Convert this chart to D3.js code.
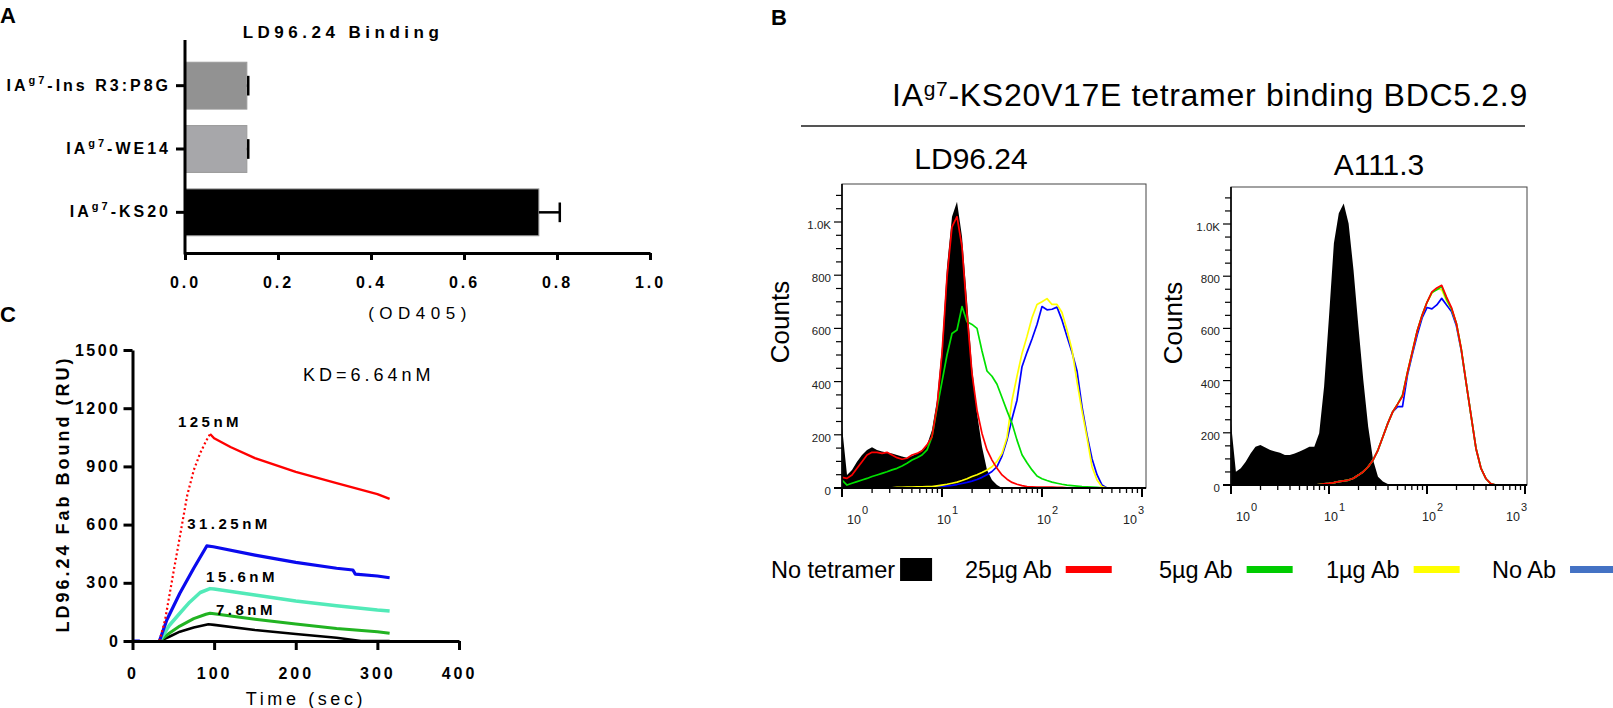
<!DOCTYPE html>
<html>
<head>
<meta charset="utf-8">
<script src="https://cdn.jsdelivr.net/npm/d3@7"></script>
<style>
body { margin: 0; background: #fff; }
svg { font-family: "Liberation Sans", Arial, sans-serif; }
</style>
</head>
<body>
<svg id="figure" width="1613" height="708"></svg>
<script>
// ---- panel A : ELISA binding
const bindCategories = ["Ins R3:P8G", "WE14", "KS20"];
const bindValues = [0.133, 0.133, 0.761];
const bindErrors = [0.003, 0.003, 0.045];
const bindColors = ["#929292", "#a7a7aa", "#000000"];
const bindTicks = [0, 0.2, 0.4, 0.6, 0.8, 1.0];

// ---- panel C : SPR sensorgrams (time in sec, response in RU)
const conc125AssocTime = [33, 40, 50, 61, 67, 75, 83, 90, 95];
const conc125AssocRU = [0, 110, 350, 608, 750, 880, 969, 1030, 1067];
const conc125DissTime = [95, 100, 120, 150, 200, 250, 300, 315];
const conc125DissRU = [1067, 1045, 1000, 943, 872, 814, 757, 733];
const conc31Time = [33, 42, 58, 75, 91, 99, 150, 200, 250, 270, 273, 300, 315];
const conc31RU = [0, 108, 246, 375, 490, 486, 443, 405, 375, 366, 345, 335, 326];
const conc31LeadTime = [0, 9];
const conc31LeadRU = [0, 0];
const conc15Time = [33, 45, 58, 70, 83, 95, 100, 150, 200, 250, 300, 315];
const conc15RU = [0, 80, 143, 200, 250, 270, 268, 237, 206, 182, 160, 155];
const conc7Time = [33, 45, 58, 75, 90, 95, 100, 150, 200, 250, 300, 315];
const conc7RU = [0, 40, 77, 115, 138, 143, 140, 112, 88, 65, 48, 40];
const conc3Time = [33, 45, 58, 75, 93, 100, 150, 200, 250, 280, 315];
const conc3RU = [0, 22, 48, 70, 86, 83, 57, 36, 17, 0, 0];
const concLabels = ["125nM", "31.25nM", "15.6nM", "7.8nM"];
const sprXTicks = [0, 100, 200, 300, 400];
const sprYTicks = [0, 300, 600, 900, 1200, 1500];

// ---- panel B : flow cytometry histograms (log10 fluorescence grid, counts)
const logGrid = [0.00,0.05,0.10,0.15,0.20,0.25,0.30,0.35,0.40,0.45,0.50,0.55,0.60,0.65,0.70,0.75,0.80,0.85,0.90,0.95,
  1.00,1.05,1.10,1.15,1.20,1.25,1.30,1.35,1.40,1.45,1.50,1.55,1.60,1.65,1.70,1.75,1.80,1.85,1.90,1.95,
  2.00,2.05,2.10,2.15,2.20,2.25,2.30,2.35,2.40,2.45,2.50,2.55,2.60,2.65,2.70,2.75,2.80,2.85,2.90,2.95,3.00];

const ldNoTetramer = [230,49,68,99,124,143,153,143,137,133,130,124,118,114,120,130,143,162,218,331,
  531,832,1020,1076,945,707,456,281,155,68,30,11,0,0,0,0,0,0,0,0,
  0,0,0,0,0,0,0,0,0,0,0,0,0,0,0,0,0,0,0,0,0];
const ld25ug = [40,36,49,74,99,124,134,134,130,134,124,114,108,112,124,130,140,162,193,306,
  506,794,982,1020,907,657,431,293,205,143,105,74,49,33,21,14,9,5,4,3,
  3,3,3,2,2,1,1,0,0,0,0,0,0,0,0,0,0,0,0,0,0];
const ld5ug = [30,11,18,24,30,36,43,49,55,61,68,74,83,93,105,114,124,143,193,300,
  400,500,581,594,682,625,615,600,515,440,420,390,340,290,243,180,125,95,68,45,
  35,28,22,18,14,11,9,7,5,4,3,2,1,0,0,0,0,0,0,0,0];
const ld1ug = [0,0,0,0,0,0,0,0,0,1,1,2,2,3,3,4,4,5,5,8,
  11,14,18,22,28,35,43,50,58,68,80,100,130,190,330,420,506,570,640,690,
  700,712,690,690,660,594,519,400,290,190,80,30,5,0,0,0,0,0,0,0,0];
const ldNoAb = [0,0,0,0,0,0,0,0,0,0,0,0,0,0,0,0,0,0,2,4,
  6,8,10,13,17,21,26,32,40,50,62,80,120,180,260,330,456,510,560,615,
  682,670,672,680,631,570,510,440,306,200,110,50,11,0,0,0,0,0,0,0,0];

const aNoTetramer = [236,51,64,89,121,147,153,144,134,128,124,115,115,121,128,137,147,147,198,377,
  645,926,1041,1079,1002,824,607,402,223,96,32,13,4,0,0,0,0,0,0,0,
  0,0,0,0,0,0,0,0,0,0,0,0,0,0,0,0,0,0,0,0,0];
const a25ug = [0,0,0,0,0,0,0,0,0,0,0,0,0,0,0,0,0,0,2,4,
  6,9,13,16,19,26,38,51,70,96,134,185,236,280,310,340,430,510,590,650,
  700,740,755,765,720,680,619,520,390,265,140,65,25,5,0,0,0,0,0,0,0];
const a5ug = [0,0,0,0,0,0,0,0,0,0,0,0,0,0,0,0,0,0,2,4,
  6,9,13,16,19,26,38,51,70,96,134,185,236,280,310,345,430,510,590,650,
  700,738,748,760,712,675,619,520,390,265,140,65,25,5,0,0,0,0,0,0,0];
const a1ug = [0,0,0,0,0,0,0,0,0,0,0,0,0,0,0,0,0,0,2,4,
  6,9,13,16,19,26,38,51,70,96,134,185,236,280,310,340,430,510,590,650,
  700,735,752,748,705,675,619,520,390,265,140,65,25,5,0,0,0,0,0,0,0];
const aNoAb = [0,0,0,0,0,0,0,0,0,0,0,0,0,0,0,0,0,0,2,4,
  6,9,13,16,19,26,38,51,70,96,134,185,236,280,300,300,420,500,575,640,
  680,675,690,715,690,665,610,515,390,265,140,65,25,5,0,0,0,0,0,0,0];

const countTicks = [0, 200, 400, 600, 800, 1000];
const countTickLabels = ["0", "200", "400", "600", "800", "1.0K"];
const legendLabels = ["No tetramer", "25\u00b5g Ab", "5\u00b5g Ab", "1\u00b5g Ab", "No Ab"];
const legendColors = ["#000000", "#ff0000", "#00cc00", "#ffff00", "#4472c4"];

const svg = d3.select("#figure");
svg.append("rect").attr("width", 1613).attr("height", 708).attr("fill", "#fff");

function panelLetter(x, y, t) {
  svg.append("text").attr("x", x).attr("y", y).attr("font-size", 22).attr("font-weight", "bold").text(t);
}

// superscript label helper: IA^g7-xxx
function iaLabel(sel, rest, supSize, rise) {
  sel.text(null);
  sel.append("tspan").text("IA");
  sel.append("tspan").attr("font-size", supSize).attr("dy", -rise).text("g7");
  sel.append("tspan").attr("dy", rise).text(rest);
}

function drawBinding() {
  const g = svg.append("g");
  const x = d3.scaleLinear().domain([0, 1]).range([185, 650]);
  const y = d3.scaleBand().domain(bindCategories).range([54, 244]).paddingInner(0.26).paddingOuter(0.13);

  g.selectAll("rect.bar")
    .data(bindCategories)
    .join("rect")
    .attr("class", "bar")
    .attr("x", x(0))
    .attr("y", d => y(d))
    .attr("width", (d, i) => x(bindValues[i]) - x(0))
    .attr("height", y.bandwidth())
    .attr("fill", (d, i) => bindColors[i])
    .attr("stroke", "#9a9a9a")
    .attr("stroke-width", 1);

  // error bars (upper side only)
  const capH = y.bandwidth() * 0.42;
  bindCategories.forEach((c, i) => {
    const cy = y(c) + y.bandwidth() / 2;
    const xe = x(bindValues[i] + bindErrors[i]);
    g.append("line").attr("x1", x(bindValues[i])).attr("x2", xe).attr("y1", cy).attr("y2", cy)
      .attr("stroke", "#000").attr("stroke-width", 2.5);
    g.append("line").attr("x1", xe).attr("x2", xe).attr("y1", cy - capH / 2).attr("y2", cy + capH / 2)
      .attr("stroke", "#000").attr("stroke-width", 2.5);
  });

  const xAxis = g.append("g").attr("transform", "translate(0,253)")
    .call(d3.axisBottom(x).tickValues(bindTicks).tickFormat(d3.format(".1f")).tickSize(7).tickSizeOuter(0));
  xAxis.select(".domain").attr("stroke-width", 3);
  xAxis.selectAll(".tick line").attr("stroke-width", 3);
  xAxis.selectAll(".tick text").attr("y", 24).attr("font-size", 16).attr("font-weight", "bold")
    .attr("font-family", "Liberation Sans, Arial").style("letter-spacing", "3px").attr("fill", "#000");

  const yAxis = g.append("g").attr("transform", "translate(185,0)")
    .call(d3.axisLeft(y).tickSize(9).tickSizeOuter(0));
  yAxis.select(".domain").remove();
  yAxis.selectAll(".tick line").attr("stroke-width", 3);
  yAxis.selectAll(".tick text").attr("x", -14).attr("font-size", 16).attr("font-weight", "bold")
    .attr("font-family", "Liberation Sans, Arial").style("letter-spacing", "3px").attr("fill", "#000")
    .each(function(d) { iaLabel(d3.select(this), "-" + d, 11, 7); });
  g.append("line").attr("x1", 185).attr("x2", 185).attr("y1", 40).attr("y2", 254.5)
    .attr("stroke", "#000").attr("stroke-width", 3);

  g.append("text").attr("x", 343).attr("y", 38).attr("text-anchor", "middle")
    .attr("font-size", 17).attr("font-weight", "bold").style("letter-spacing", "4.5px").text("LD96.24 Binding");
  g.append("text").attr("x", 420).attr("y", 319).attr("text-anchor", "middle")
    .attr("font-size", 17).style("letter-spacing", "5.5px").text("(OD405)");
}

function drawSpr() {
  const g = svg.append("g");
  const x = d3.scaleLinear().domain([0, 400]).range([132.5, 459]);
  const y = d3.scaleLinear().domain([0, 1500]).range([641, 350]);
  const line = d3.line().x(d => x(d[0])).y(d => y(d[1]));

  const curves = [
    {t: conc3Time, v: conc3RU, color: "#000000", w: 2.6},
    {t: conc7Time, v: conc7RU, color: "#22b322", w: 3},
    {t: conc15Time, v: conc15RU, color: "#52eab8", w: 3.5},
    {t: conc31LeadTime, v: conc31LeadRU, color: "#0000ee", w: 3},
    {t: conc31Time, v: conc31RU, color: "#0a0aee", w: 3.2},
    {t: conc125DissTime, v: conc125DissRU, color: "#ff0000", w: 2.4},
    {t: conc125AssocTime, v: conc125AssocRU, color: "#ff0000", w: 2.2, dash: "2,2.6"}
  ];
  curves.forEach(c => {
    g.append("path").datum(d3.zip(c.t, c.v)).attr("d", line)
      .attr("fill", "none").attr("stroke", c.color).attr("stroke-width", c.w)
      .attr("stroke-linejoin", "round").attr("stroke-dasharray", c.dash || null);
  });

  const xAxis = g.append("g").attr("transform", "translate(0,641)")
    .call(d3.axisBottom(x).tickValues(sprXTicks).tickFormat(d3.format("d")).tickSize(9).tickSizeOuter(0));
  xAxis.select(".domain").attr("stroke-width", 3);
  xAxis.selectAll(".tick line").attr("stroke-width", 3);
  xAxis.selectAll(".tick text").attr("y", 27).attr("font-size", 16).attr("font-weight", "bold")
    .attr("font-family", "Liberation Sans, Arial").style("letter-spacing", "3px").attr("fill", "#000");

  const yAxis = g.append("g").attr("transform", "translate(132.5,0)")
    .call(d3.axisLeft(y).tickValues(sprYTicks).tickFormat(d3.format("d")).tickSize(9).tickSizeOuter(0));
  yAxis.select(".domain").attr("stroke-width", 3);
  yAxis.selectAll(".tick line").attr("stroke-width", 3);
  yAxis.selectAll(".tick text").attr("x", -12).attr("font-size", 16).attr("font-weight", "bold")
    .attr("font-family", "Liberation Sans, Arial").style("letter-spacing", "2.5px").attr("fill", "#000");

  g.append("text").attr("transform", "translate(69,494) rotate(-90)").attr("text-anchor", "middle")
    .attr("font-size", 18).attr("font-weight", "bold").style("letter-spacing", "3px")
    .text("LD96.24 Fab Bound (RU)");
  g.append("text").attr("x", 306).attr("y", 705).attr("text-anchor", "middle")
    .attr("font-size", 18).style("letter-spacing", "3.6px").text("Time (sec)");
  g.append("text").attr("x", 303).attr("y", 381).attr("font-size", 18).style("letter-spacing", "4px")
    .text("KD=6.64nM");

  const labelPos = [[210, 427], [229, 529], [242, 582], [246, 615]];
  concLabels.forEach((t, i) => {
    g.append("text").attr("x", labelPos[i][0]).attr("y", labelPos[i][1]).attr("text-anchor", "middle")
      .attr("font-size", 15).attr("font-weight", "bold").style("letter-spacing", "3.5px").text(t);
  });
}

function drawHistogram(box, series) {
  const g = svg.append("g");
  const x = d3.scaleLog().domain([1, Math.pow(10, (box.right - box.left) / box.decade)]).range([box.left, box.right]);
  const y = d3.scaleLinear().domain([0, 1000]).range([box.zero, box.k]);
  const clipId = "clip" + box.left;
  g.append("clipPath").attr("id", clipId).append("rect")
    .attr("x", box.left).attr("y", box.top).attr("width", box.right - box.left).attr("height", box.zero - box.top + 1);

  const plot = g.append("g").attr("clip-path", `url(#${clipId})`);
  const pts = vals => logGrid.map((l, i) => [Math.pow(10, l), vals[i] || 0]);

  plot.append("path").datum(pts(series[0].values))
    .attr("d", d3.area().x(d => x(d[0])).y0(y(0)).y1(d => y(d[1])))
    .attr("fill", "#000");
  series.slice(1).forEach(s => {
    plot.append("path").datum(pts(s.values))
      .attr("d", d3.line().x(d => x(d[0])).y(d => y(d[1])))
      .attr("fill", "none").attr("stroke", s.color).attr("stroke-width", 1.7).attr("stroke-linejoin", "round");
  });

  // frame
  g.append("rect").attr("x", box.left).attr("y", box.top).attr("width", box.right - box.left)
    .attr("height", box.zero - box.top).attr("fill", "none").attr("stroke", "#444").attr("stroke-width", 1);
  g.append("line").attr("x1", box.left).attr("x2", box.left).attr("y1", box.top).attr("y2", box.zero + 1)
    .attr("stroke", "#000").attr("stroke-width", 1.6);
  g.append("line").attr("x1", box.left - 8).attr("x2", box.right).attr("y1", box.zero).attr("y2", box.zero)
    .attr("stroke", "#000").attr("stroke-width", 2.2);

  // y ticks every 50 counts
  d3.range(0, 1101, 50).forEach(v => {
    const major = v % 200 === 0;
    g.append("line").attr("x1", box.left - (major ? 8 : 6)).attr("x2", box.left)
      .attr("y1", y(v)).attr("y2", y(v)).attr("stroke", "#000").attr("stroke-width", 1.2);
  });
  countTicks.forEach((v, i) => {
    g.append("text").attr("x", box.left - 11).attr("y", y(v) + 7).attr("text-anchor", "end")
      .attr("font-size", 11.5).attr("fill", "#222").text(countTickLabels[i]);
  });

  // log x ticks
  const maxVal = x.domain()[1];
  [1, 10, 100].forEach(dec => {
    for (let m = 1; m <= 9; m++) {
      const v = dec * m;
      if (v > maxVal) continue;
      g.append("line").attr("x1", x(v)).attr("x2", x(v)).attr("y1", box.zero)
        .attr("y2", box.zero + (m === 1 ? 9 : 5)).attr("stroke", "#000").attr("stroke-width", m === 1 ? 2 : 1.3);
    }
  });
  g.append("line").attr("x1", x(1000)).attr("x2", x(1000)).attr("y1", box.zero).attr("y2", box.zero + 9)
    .attr("stroke", "#000").attr("stroke-width", 2);
  [0, 1, 2, 3].forEach(p => {
    const shift = p === 0 ? 5 : (p === 3 ? -19 : -5);
    const t = g.append("text").attr("x", x(Math.pow(10, p)) + shift).attr("y", box.zero + 36)
      .attr("font-size", 12.5).attr("fill", "#222");
    t.append("tspan").text("10");
    t.append("tspan").attr("font-size", 11).attr("dy", -10).attr("dx", 1).text(p);
  });

  g.append("text").attr("transform", `translate(${box.countsX},${box.countsY}) rotate(-90)`)
    .attr("text-anchor", "middle").attr("font-size", 26).text("Counts");
  g.append("text").attr("x", box.titleX).attr("y", box.titleY).attr("text-anchor", "middle")
    .attr("font-size", 30).text(box.title);
}

function drawFlow() {
  panelLetter(771, 25, "B");
  const t = svg.append("text").attr("x", 1210).attr("y", 106).attr("text-anchor", "middle")
    .attr("font-size", 32).style("letter-spacing", "0.7px");
  t.append("tspan").text("IA");
  t.append("tspan").attr("font-size", 21).attr("dy", -10).text("g7");
  t.append("tspan").attr("dy", 10).text("-KS20V17E tetramer binding BDC5.2.9");
  svg.append("line").attr("x1", 801).attr("x2", 1525).attr("y1", 126).attr("y2", 126)
    .attr("stroke", "#555").attr("stroke-width", 1.8);

  drawHistogram({left: 842, right: 1146, decade: 100, top: 184, zero: 488, k: 222, countsX: 789, countsY: 322,
      title: "LD96.24", titleX: 971, titleY: 169},
    [{values: ldNoTetramer}, {values: ldNoAb, color: "#0000ff"}, {values: ld1ug, color: "#ffff00"},
     {values: ld5ug, color: "#00e000"}, {values: ld25ug, color: "#ff0000"}]);
  drawHistogram({left: 1231, right: 1527, decade: 98, top: 187, zero: 485, k: 224, countsX: 1182, countsY: 323,
      title: "A111.3", titleX: 1379, titleY: 175},
    [{values: aNoTetramer}, {values: aNoAb, color: "#0000ff"}, {values: a1ug, color: "#ffff00"},
     {values: a5ug, color: "#00e000"}, {values: a25ug, color: "#ff0000"}]);

  // legend
  const starts = [771, 965, 1159, 1326, 1492];
  legendLabels.forEach((lab, i) => {
    const txt = svg.append("text").attr("x", starts[i]).attr("y", 578).attr("font-size", 23.5).text(lab);
    const end = txt.node().getComputedTextLength() + starts[i];
    if (i === 0) {
      svg.append("rect").attr("x", end + 5).attr("y", 558).attr("width", 32).attr("height", 23).attr("fill", legendColors[i]);
    } else {
      svg.append("rect").attr("x", end + 14).attr("y", 566).attr("width", 46).attr("height", 7).attr("fill", legendColors[i]);
    }
  });
}

panelLetter(0, 23, "A");
panelLetter(0, 322, "C");
drawBinding();
drawSpr();
drawFlow();
</script>
</body>
</html>
